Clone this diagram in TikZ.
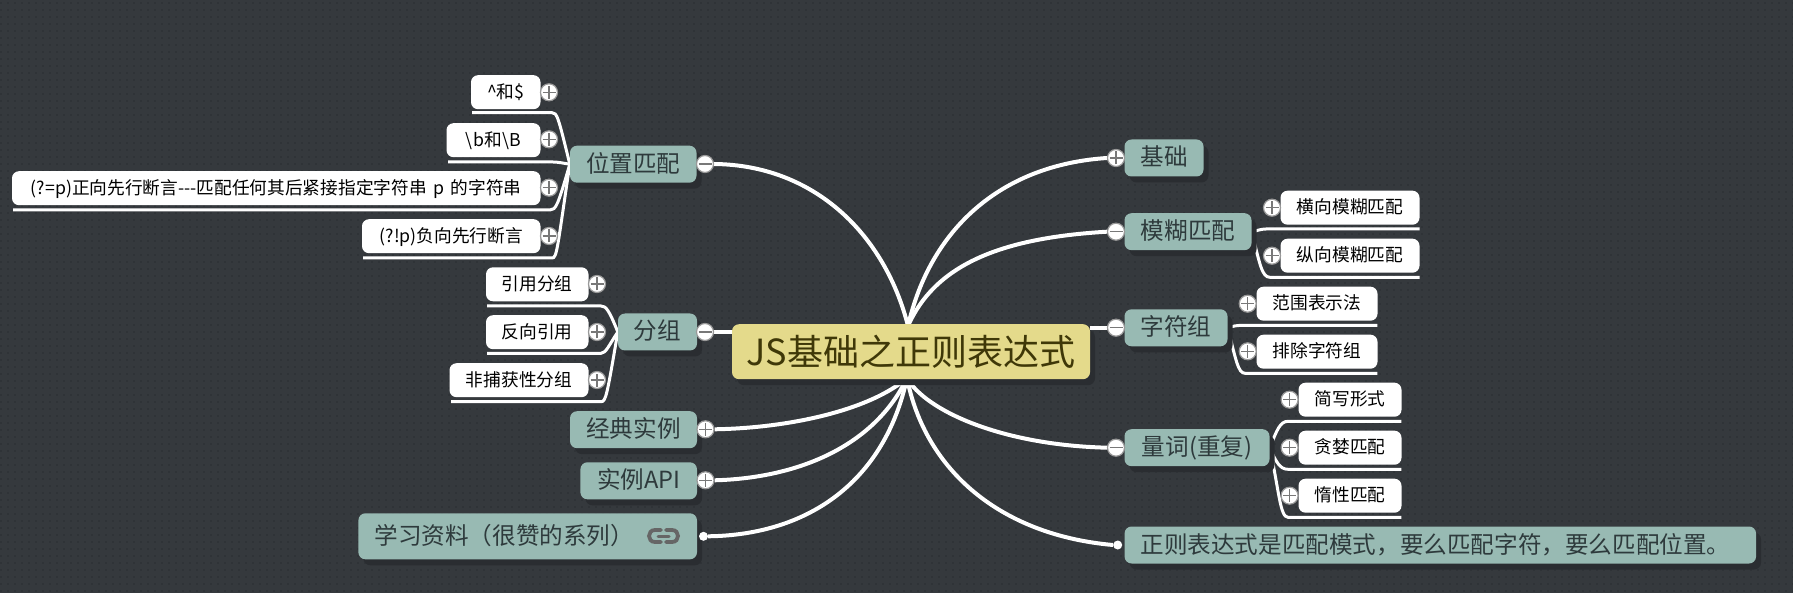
\documentclass[tikz,border=0pt]{standalone}
\usepackage{fontspec}
\setmainfont[Ligatures=NoCommon]{Noto Sans CJK SC}
\usetikzlibrary{shadows,backgrounds}
\definecolor{bgc}{HTML}{35393D}
\definecolor{dotc}{HTML}{2F3337}
\definecolor{shadowc}{HTML}{2A2D31}
\definecolor{topicc}{HTML}{98BAB3}
\definecolor{topictext}{HTML}{2E3A3C}
\definecolor{rootc}{HTML}{E4DA8B}
\definecolor{roottext}{HTML}{3F3808}
\definecolor{ringc}{HTML}{999999}
\definecolor{glyphc}{HTML}{787878}
\definecolor{linkc}{HTML}{666666}
\tikzset{
  x=1pt,y=-1pt,
  leafbox/.style={fill=white,text=black,rounded corners=7pt,inner sep=0pt,minimum height=34pt,
    font=\fontsize{17.7}{20}\selectfont,text height=15pt,text depth=3pt},
  topicbox/.style={fill=topicc,text=topictext,rounded corners=7pt,inner sep=0pt,minimum height=37pt,
    font=\fontsize{23.6}{26}\selectfont,text height=20pt,text depth=4pt,
    drop shadow={shadow xshift=5pt,shadow yshift=-6pt,fill=shadowc,opacity=1}},
  rootbox/.style={fill=rootc,text=roottext,rounded corners=7pt,inner sep=0pt,minimum height=55pt,minimum width=358pt,
    font=\fontsize{36}{39}\selectfont,
    drop shadow={shadow xshift=5pt,shadow yshift=-6pt,fill=shadowc,opacity=1}},
  btnbase/.style={circle,fill=white,draw=ringc,line width=1.2pt,minimum size=17pt,inner sep=0pt},
  plusbtn/.style={btnbase,path picture={
     \draw[glyphc,line width=1.1pt] ([xshift=-6.5pt]path picture bounding box.center) -- ([xshift=6.5pt]path picture bounding box.center);
     \draw[glyphc,line width=1.1pt] ([yshift=-6.5pt]path picture bounding box.center) -- ([yshift=6.5pt]path picture bounding box.center);}},
  minusbtn/.style={btnbase,path picture={
     \draw[glyphc,line width=1.1pt] ([xshift=-6.5pt]path picture bounding box.center) -- ([xshift=6.5pt]path picture bounding box.center);}},
  enddot/.style={circle,fill=white,minimum size=9pt,inner sep=0pt},
  mainconn/.style={draw=white,line width=4pt},
  branch/.style={draw=white,line width=3pt},
  linkicon/.style={draw=linkc,line width=3.8pt,line cap=round},
}
\begin{document}
\begin{tikzpicture}
\useasboundingbox (0,0) rectangle (1793,593);
% root
\node[rootbox] (root) at (911,351.7) {JS基础之正则表达式};
\coordinate (rt) at (908,326);
\coordinate (rb) at (907,378);
% left topics
\node[topicbox,minimum width=126.5pt] (pos) at (633.25,164.2) {位置匹配};
\node[topicbox,minimum width=79pt] (grp) at (657.5,332) {分组};
\node[topicbox,minimum width=127pt] (cls) at (633.5,429.7) {经典实例};
\node[topicbox,minimum width=116.6pt] (api) at (638.7,480.8) {实例API};
\node[topicbox,minimum height=46pt,text width=306.6pt,inner xsep=16pt,align=left] (res) at (527.7,536.3) {学习资料（很赞的系列）};
% right topics
\node[topicbox,minimum width=79pt] (base) at (1164,158) {基础};
\node[topicbox,minimum width=127pt] (fuzzy) at (1188,231.7) {模糊匹配};
\node[topicbox,minimum width=103pt] (cset) at (1176,327.8) {字符组};
\node[topicbox,minimum width=145pt] (quant) at (1197,447.7) {量词(重复)};
\node[topicbox,text width=599.5pt,inner xsep=16pt,align=left] (note) at (1440.3,545) {正则表达式是匹配模式，要么匹配字符，要么匹配位置。};
% leaves left
\node[leafbox,minimum width=69.5pt] (a1) at (505.75,92.2) {\^{}和\$};
\node[leafbox,minimum width=94pt] (a2) at (493.5,140.2) {\textbackslash\hspace{1pt}b和\textbackslash\hspace{1pt}B};
\node[leafbox,minimum width=528.5pt] (a3) at (276.25,188.2) {(?=p)正向先行断言-{}-{}-匹配任何其后紧接指定字符串\hspace{2.5pt} p \hspace{2.5pt}的字符串};
\node[leafbox,minimum width=178.5pt] (a4) at (451.25,236.2) {(?!p)负向先行断言};
\node[leafbox,minimum width=102.5pt] (b1) at (537.25,284.3) {引用分组};
\node[leafbox,minimum width=102.5pt] (b2) at (537.25,332.2) {反向引用};
\node[leafbox,minimum width=139pt] (b3) at (519,380.2) {非捕获性分组};
% leaves right
\node[leafbox,minimum width=139pt] (c1) at (1350,207.7) {横向模糊匹配};
\node[leafbox,minimum width=139pt] (c2) at (1350,255.7) {纵向模糊匹配};
\node[leafbox,minimum width=121pt] (d1) at (1317,303.7) {范围表示法};
\node[leafbox,minimum width=121pt] (d2) at (1317,351.7) {排除字符组};
\node[leafbox,minimum width=103pt] (e1) at (1350,399.7) {简写形式};
\node[leafbox,minimum width=103pt] (e2) at (1350,447.7) {贪婪匹配};
\node[leafbox,minimum width=103pt] (e3) at (1350,495.7) {惰性匹配};
% buttons
\node[minusbtn] (bpos) at (705,164) {};
\node[minusbtn] (bgrp) at (705,332) {};
\node[plusbtn] (bcls) at (705.5,429.3) {};
\node[plusbtn] (bapi) at (705.5,480.3) {};
\node[enddot] (dres) at (703.5,536.3) {};
\node[plusbtn] (bbase) at (1116,158) {};
\node[minusbtn] (bfuzzy) at (1116,231.7) {};
\node[minusbtn] (bcset) at (1116,327.7) {};
\node[minusbtn] (bquant) at (1116,447.7) {};
\node[enddot] (dnote) at (1117.7,545) {};
\node[plusbtn] (pa1) at (549,92.3) {};
\node[plusbtn] (pa2) at (549,139.3) {};
\node[plusbtn] (pa3) at (549,187.7) {};
\node[plusbtn] (pa4) at (549,236) {};
\node[plusbtn] (pb1) at (597,284) {};
\node[plusbtn] (pb2) at (597,332) {};
\node[plusbtn] (pb3) at (597,380) {};
\node[plusbtn] (pc1) at (1272,207.7) {};
\node[plusbtn] (pc2) at (1272,255.7) {};
\node[plusbtn] (pd1) at (1247.7,303.7) {};
\node[plusbtn] (pd2) at (1247.7,351.3) {};
\node[plusbtn] (pe1) at (1289.6,399.7) {};
\node[plusbtn] (pe2) at (1289.6,447.7) {};
\node[plusbtn] (pe3) at (1289.6,495.7) {};
% link icon
\draw[linkicon] (661,530) -- (655,530) .. controls (647,530) and (647,542) .. (655,542) -- (661,542);
\draw[linkicon] (666,530) -- (672,530) .. controls (680,530) and (680,542) .. (672,542) -- (666,542);
\draw[linkicon,line width=3pt] (658,536) -- (669,536);
% underline free ends
\coordinate (ua1) at (472,112.7);
\coordinate (ua2) at (448,162);
\coordinate (ua3) at (13,210);
\coordinate (ua4) at (363,258);
\coordinate (ub1) at (487,306);
\coordinate (ub2) at (487,353.3);
\coordinate (ub3) at (451,401.7);
\coordinate (uc1) at (1419.7,229);
\coordinate (uc2) at (1419.7,277.3);
\coordinate (ud1) at (1377.4,325.3);
\coordinate (ud2) at (1377.4,373.3);
\coordinate (ue1) at (1401.4,421.3);
\coordinate (ue2) at (1401.4,469.3);
\coordinate (ue3) at (1401.4,517.3);
\begin{scope}[on background layer]
\fill[bgc] (0,0) rectangle (1793,593);
\foreach \yy in {3,10,...,591}{
  \draw[dotc,line width=2pt,dash pattern=on 2pt off 5pt] (0,\yy) -- (1793,\yy);
}
% main connectors
\draw[mainconn] (bpos.east) .. controls (815,165) and (885,235) .. (rt);
\draw[mainconn] (bgrp.east) -- (root.west |- bgrp);
\draw[mainconn] (bcls.east) .. controls (790,428) and (870,410) .. (rb);
\draw[mainconn] (bapi.east) .. controls (800,478) and (875,445) .. (rb);
\draw[mainconn] (dres.east) .. controls (810,535) and (885,480) .. (rb);
\draw[mainconn] (rt) .. controls (930,230) and (1000,165) .. (bbase.west);
\draw[mainconn] (rt) .. controls (935,265) and (1000,238) .. (bfuzzy.west);
\draw[mainconn] (bcset.west) -- (root.east |- bcset);
\draw[mainconn] (rb) .. controls (925,410) and (1000,445) .. (bquant.west);
\draw[mainconn] (rb) .. controls (925,470) and (1000,535) .. (dnote.west);
% branches
\draw[branch] (ua1) -- (552,112.7) .. controls (557,112.7) and (558,116) .. (pos.west);
\draw[branch] (ua2) -- (553,162) .. controls (558,162) and (562,163) .. (pos.west);
\draw[branch] (ua3) -- (550,210) .. controls (556,210) and (558,205) .. (pos.west);
\draw[branch] (ua4) -- (552,258) .. controls (557,258) and (557,250) .. (pos.west);
\draw[branch] (ub1) -- (601,306) .. controls (606,306) and (609,310) .. (grp.west);
\draw[branch] (ub2) -- (601,353.3) .. controls (606,353.3) and (609,345) .. (grp.west);
\draw[branch] (ub3) -- (601,401.7) .. controls (606,401.7) and (607,395) .. (grp.west);
\draw[branch] (uc1) -- (1266,229) .. controls (1260,229) and (1257,231) .. (fuzzy.east);
\draw[branch] (uc2) -- (1270,277.3) .. controls (1262,277.3) and (1260,265) .. (fuzzy.east);
\draw[branch] (ud1) -- (1244,325.3) .. controls (1237,325.3) and (1233,326) .. (cset.east);
\draw[branch] (ud2) -- (1245,373.3) .. controls (1238,373.3) and (1236,360) .. (cset.east);
\draw[branch] (ue1) -- (1288,421.3) .. controls (1280,421.3) and (1277,430) .. (quant.east);
\draw[branch] (ue2) -- (1288,469.3) .. controls (1280,469.3) and (1276,462) .. (quant.east);
\draw[branch] (ue3) -- (1288,517.3) .. controls (1280,517.3) and (1279,490) .. (quant.east);
\end{scope}
\end{tikzpicture}
\end{document}
